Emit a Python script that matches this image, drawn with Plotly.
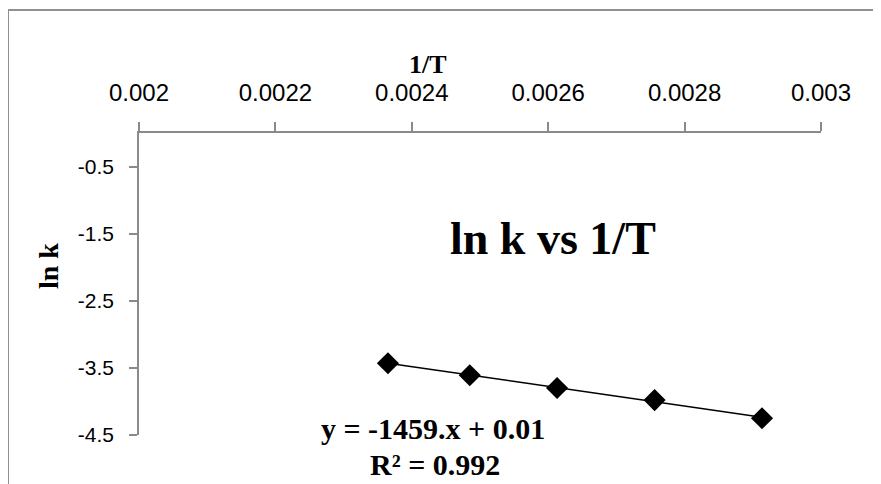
import numpy as np
import plotly.graph_objects as go

# Data
inv_T = [0.002365, 0.002485, 0.002613, 0.002756, 0.0029135]
ln_k = [-3.43, -3.61, -3.80, -3.98, -4.25]

x_ticks = [0.002, 0.0022, 0.0024, 0.0026, 0.0028, 0.003]
x_tick_labels = ["0.002", "0.0022", "0.0024", "0.0026", "0.0028", "0.003"]
y_ticks = [-0.5, -1.5, -2.5, -3.5, -4.5]
y_tick_labels = ["-0.5", "-1.5", "-2.5", "-3.5", "-4.5"]

title_text = "ln k vs 1/T"
x_title = "1/T"
y_title = "ln k"
eq_text = "y = -1459.x + 0.01"
r2_text = "R² = 0.992"

# linear trend line over the data range
slope, intercept = np.polyfit(inv_T, ln_k, 1)
fit_x = [min(inv_T), max(inv_T)]
fit_y = [slope * v + intercept for v in fit_x]

axis_color = "#8a8a8a"
serif = "Liberation Serif, Times New Roman, serif"
sans = "Liberation Sans, Arial, sans-serif"

fig = go.Figure()
fig.add_trace(go.Scatter(x=fit_x, y=fit_y, mode="lines",
                         line=dict(color="black", width=1.5), showlegend=False))
fig.add_trace(go.Scatter(x=inv_T, y=ln_k, mode="markers",
                         marker=dict(symbol="diamond", size=17, color="black"),
                         showlegend=False))

# page has an 8px body margin; work in page pixels and subtract it
OFF = 8
W, H = 881 - OFF, 484 - OFF
PL, PT, PR, PB = 139, 133, 821, 435  # plot area in page pixels
L, T = PL - OFF, PT - OFF
R, B = W - (PR - OFF), H - (PB - OFF)
pw, ph = PR - PL, PB - PT

fig.update_layout(
    width=W, height=H,
    margin=dict(l=L, r=R, t=T, b=B, pad=0),
    paper_bgcolor="white", plot_bgcolor="white",
    xaxis=dict(range=[0.002, 0.003], side="top", tickvals=x_ticks, ticktext=x_tick_labels,
               showgrid=False, zeroline=False, showline=True, linecolor=axis_color, linewidth=1.5,
               ticks="outside", ticklen=9, tickcolor=axis_color, tickwidth=1.5,
               ticklabelstandoff=12,
               tickfont=dict(family=sans, size=24, color="black")),
    yaxis=dict(range=[-4.5, 0], tickvals=y_ticks, ticktext=y_tick_labels,
               showgrid=False, zeroline=False, showline=True, linecolor=axis_color, linewidth=1.5,
               ticks="outside", ticklen=8, tickcolor=axis_color, tickwidth=1.5,
               ticklabelstandoff=11,
               tickfont=dict(family=sans, size=21, color="black")),
)


def px_x(p):
    return (p - PL) / pw


def px_y(p):
    return 1 - (p - PT) / ph


annos = [
    dict(text=f"<b>{title_text}</b>", x=px_x(553), y=px_y(238), font=dict(family=serif, size=46, color="black")),
    dict(text=f"<b>{x_title}</b>", x=px_x(428), y=px_y(65), font=dict(family=serif, size=26, color="black")),
    dict(text=f"<b>{y_title}</b>", x=px_x(48), y=px_y(266), font=dict(family=serif, size=28, color="black"), textangle=-90),
    dict(text=f"<b>{eq_text}</b>", x=px_x(433), y=px_y(428), font=dict(family=serif, size=30, color="black")),
    dict(text=f"<b>{r2_text}</b>", x=px_x(435), y=px_y(464), font=dict(family=serif, size=30, color="black")),
]
for a in annos:
    fig.add_annotation(xref="paper", yref="paper", showarrow=False,
                       xanchor="center", yanchor="middle", **a)

# outer chart border (cut off at right and bottom)
border = "#909090"
fig.add_shape(type="line", xref="paper", yref="paper",
              x0=px_x(8), x1=px_x(890), y0=px_y(10), y1=px_y(10),
              line=dict(color=border, width=2))
fig.add_shape(type="line", xref="paper", yref="paper",
              x0=px_x(8), x1=px_x(8), y0=px_y(10), y1=px_y(495),
              line=dict(color=border, width=2))

fig.write_html("out.html")
